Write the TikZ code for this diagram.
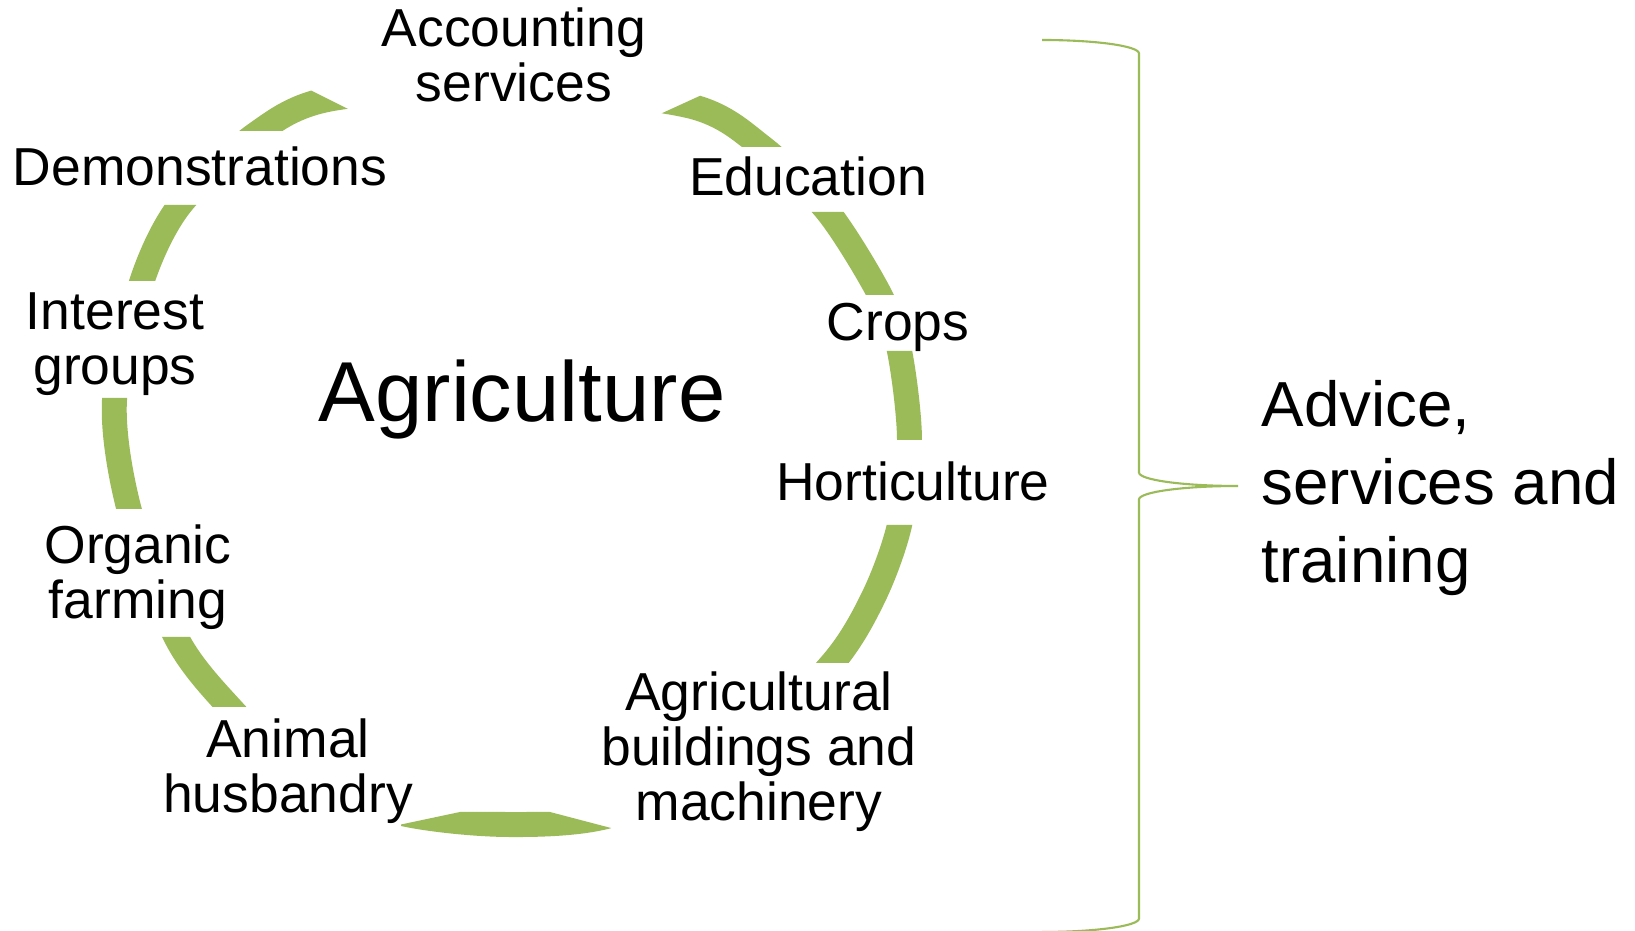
\documentclass[tikz,border=0pt]{standalone}
\usepackage{fontspec}
\setmainfont{Liberation Sans}
\definecolor{ringgreen}{HTML}{9BBB59}
\tikzset{
  lbl/.style={font=\fontsize{15.2}{15.65}\selectfont, align=center, inner sep=0pt},
  ring/.style={draw=ringgreen, line width=7.1pt},
  bracket/.style={draw=ringgreen, line width=0.6pt}
}
\begin{document}
\begin{tikzpicture}[x=0.01cm, y=-0.01cm]
\useasboundingbox (0,0) rectangle (1635,931);
\begin{scope}
\clip (150,131) -- (150,30) -- (190,30) -- (392,131) -- cycle
  (588,147) -- (844,30) -- (960,30) -- (960,147) -- cycle
  (780,212) rectangle (960,295)
  (850,351) rectangle (960,440)
  (780,525) rectangle (960,663)
  (401,824.5) -- (460,812) -- (550,812) -- (611,828) -- (611,870) -- (401,870) -- cycle
  (100,637) rectangle (300,707)
  (50,398) rectangle (200,509)
  (50,205) rectangle (260,281);
\draw[ring] plot[smooth cycle] coordinates {(330,99) (510,86) (690,106) (762,147)
  (828,212) (880,295) (899.5,351) (909.5,440) (899.5,525) (874,596) (832.5,663)
  (735,758) (612,815) (506,824.5) (400,813) (304,777) (229.5,707) (176,637)
  (129,509) (114.5,400) (142,281) (180,205) (256,134)};
\end{scope}
\node[lbl] (acc) at (514,55){Accounting\\services};
\node[lbl, anchor=base] (edu) at (808,196){Education};
\node[lbl, anchor=base] (crops) at (898,341){Crops};
\node[lbl, anchor=base] (horti) at (913,501){Horticulture};
\node[lbl] (build) at (759,752){Agricultural\\buildings and\\machinery};
\node[lbl] (animal) at (288,771.5){Animal\\husbandry};
\node[lbl] (organic) at (138,577.5){Organic\\farming};
\node[lbl] (interest) at (115,344){Interest\\groups};
\node[lbl, anchor=base] (demo) at (200,186){Demonstrations};
\node[font=\fontsize{24.2}{28}\selectfont, anchor=base, inner sep=0pt] (agri) at (522,422){Agriculture};
\draw[bracket] (1042,40) .. controls (1095.6,40) and (1139,46) .. (1139,53.5)
  -- (1139,472.5) .. controls (1139,480) and (1183.3,486) .. (1238,486)
  .. controls (1183.3,486) and (1139,492) .. (1139,499.5)
  -- (1139,918.5) .. controls (1139,926) and (1095.6,932) .. (1042,932);
\node[font=\fontsize{18.1}{22.2}\selectfont, align=left, anchor=west, inner sep=0pt] (advice) at (1261,488){Advice,\\services and\\training};
\end{tikzpicture}
\end{document}
